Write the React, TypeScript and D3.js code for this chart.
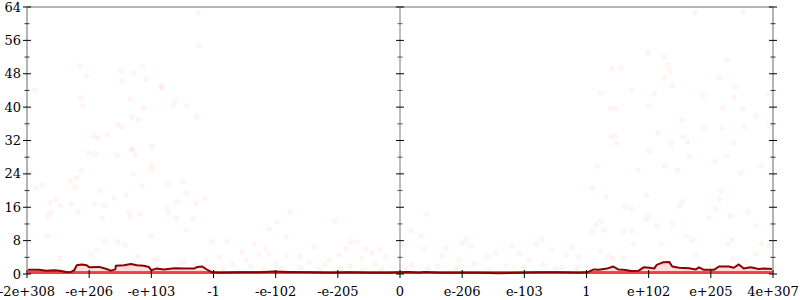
import React from "react";
import * as d3 from "d3";

// x positions are in tick units (-6 .. 6), one unit per labelled tick
const xTickLabels = ["-2e+308", "-e+206", "-e+103", "-1", "-e-102", "-e-205", "0", "e-206", "e-103", "1", "e+102", "e+205", "4e+307"];
const xTickValues = [-6, -5, -4, -3, -2, -1, 0, 1, 2, 3, 4, 5, 6];
const yMajorTicks = [0, 8, 16, 24, 32, 40, 48, 56, 64];
const yMinorTicks = [4, 12, 20, 28, 36, 44, 52, 60];

// scattered error samples, negative half
const pointsNeg: [number, number][] = [
  [-5.15, 49.9], [-5.05, 47.5], [-4.49, 48.7], [-4.47, 46.3], [-4.29, 48.2], [-4.13, 49.6], [-4.09, 46.8],
  [-3.84, 45], [-3.83, 44.6], [-5.87, 44], [-5.13, 42.2], [-5.1, 40.3], [-4.34, 42], [-4.12, 39.8],
  [-3.62, 41.5], [-3.65, 40.3], [-3.43, 40.3], [-3.27, 37.6], [-4.31, 37.6], [-4.21, 36.9], [-4.54, 35.7],
  [-4.47, 35.3], [-4.92, 33.1], [-4.86, 32.6], [-4.71, 33.3], [-3.99, 30.5], [-4.31, 30], [-3.25, 62.6],
  [-3.23, 54.7], [-5.0, 29], [-4.91, 28.8], [-4.55, 28.5], [-4.31, 29.7], [-4.25, 28.5], [-5.95, 24.2],
  [-5.13, 24.7], [-5.2, 23], [-5.31, 22.3], [-5.76, 21.3], [-5.86, 20.6], [-5.23, 20.8], [-4.83, 20.1],
  [-4.29, 24], [-4.15, 21.1], [-4.01, 26.1], [-4.01, 24.9], [-3.73, 21.6], [-3.49, 22.1], [-3.43, 19.4],
  [-4.41, 18.9], [-4.6, 18.2], [-5.53, 18], [-5.63, 17], [-5.47, 16.3], [-5.28, 16.8], [-4.92, 16.8],
  [-4.75, 16.5], [-5.61, 14.9], [-5.65, 13.9], [-5.18, 14.9], [-4.36, 14.9], [-4.34, 13.7], [-4.18, 14.4],
  [-3.75, 15.6], [-3.72, 14.6], [-3.59, 17.3], [-3.6, 13.4], [-3.28, 17], [-3.33, 13.2], [-4.79, 13.4],
  [-3.44, 10.6], [-5.68, 9.1], [-4.01, 9.1], [-4.75, 7.9], [-4.54, 7.7], [-4.42, 7], [-4.87, 5.8],
  [-4.97, 4.6], [-5.47, 3.8], [-4.21, 4.1], [-3.94, 3.4], [-3.55, 2.6], [-3.47, 2.9], [-3.28, 2.2],
  [-3.14, 18], [-1.77, 14.9], [-1.98, 12.5], [-2.11, 10.8], [-1.83, 8.9], [-1.05, 12.7], [-3.02, 7.7],
  [-2.78, 7.7], [-2.35, 7.2], [-2.16, 6.2], [-1.38, 6.5], [-0.87, 6], [-0.79, 7.7], [-0.69, 7.7],
  [-0.55, 6], [-0.32, 5.8], [-2.54, 5.3], [-2.27, 4.6], [-2.11, 4.8], [-1.83, 4.3], [-2.48, 3.4],
  [-1.62, 4.1], [-1.46, 2.9], [-1.14, 3.4], [-0.98, 4.6], [-0.61, 3.8], [-0.45, 5], [-0.23, 4.1],
  [-2.91, 4.1], [-3.12, 3.4], [-2.7, 2.2], [-2.4, 1.8], [-2.0, 2.5], [-1.6, 1.6], [-1.2, 2.2],
  [-0.8, 1.9], [-0.4, 2.4], [-0.1, 1.5], [-5.5, 1.6], [-4.8, 1.5], [-4.4, 1.7], [-3.9, 1.5],
  [-2.85, 1.2], [-2.2, 1.0], [-1.9, 1.4], [-1.3, 1.1], [-0.95, 1.3], [-0.6, 0.9], [-0.3, 1.2],
];

// scattered error samples, positive half
const pointsPos: [number, number][] = [
  [0.43, 14.4], [0.18, 10.3], [0.34, 9.1], [1.06, 8.4], [1.0, 7.4], [1.14, 6.7], [0.74, 6.2], [0.39, 6],
  [1.4, 4.1], [1.54, 5], [1.8, 6.7], [1.91, 5], [2.19, 7.2], [2.28, 8.2], [2.44, 5.8], [2.67, 4.6],
  [2.77, 6.5], [2.88, 4.1], [3.09, 20.6], [3.18, 25.9], [3.09, 10.1], [3.15, 11.8], [0.68, 4.3],
  [0.03, 7], [0.95, 3.4], [2.07, 3.4], [0.2, 2.2], [0.6, 1.8], [1.2, 2.4], [1.7, 1.9], [2.3, 2.2],
  [2.6, 1.6], [0.9, 1.5], [2.0, 1.4], [0.1, 1.1], [0.45, 1.3], [1.45, 1.0], [2.5, 1.2], [2.85, 1.4],
  [4.01, 29.5], [4.65, 28.1], [5.07, 26.9], [5.26, 28.1], [5.82, 25.9], [5.48, 24.2], [3.83, 24.9],
  [4.26, 25.9], [4.47, 24.9], [5.16, 19.9], [3.31, 18.5], [3.96, 18.9], [4.54, 17.3], [4.5, 16.3],
  [3.62, 16.1], [3.72, 15.6], [5.13, 18], [5.08, 15.6], [5.6, 14.9], [5.32, 13.9], [3.99, 13.9],
  [3.96, 12.9], [3.23, 12.7], [4.39, 12], [4.13, 11.5], [4.97, 13.4], [5.73, 11.5], [3.73, 10.3],
  [3.6, 10.1], [3.28, 10.6], [4.62, 9.1], [4.71, 8.2], [5.34, 8.2], [5.28, 7.2], [3.76, 7.2], [4.2, 7.2],
  [5.82, 7.2], [4.76, 4.6], [5.73, 4.8], [5.36, 3.6], [5.57, 3.1], [3.36, 4.3], [3.43, 3.8], [3.6, 3.8],
  [4.2, 3.8], [5.94, 6.7], [3.23, 5.5],
  [4.75, 62.6], [5.53, 62.6], [3.99, 53], [4.25, 52], [5.26, 51.3], [4.31, 50.1], [3.41, 49.2],
  [3.55, 49.4], [4.34, 48.7], [4.25, 47.2], [5.13, 47], [5.39, 44.8], [4.38, 45.1], [3.73, 44.1],
  [4.09, 43.2], [4.87, 42.7], [3.23, 43.4], [5.37, 42.2], [4.01, 40.3], [3.39, 39.6], [3.47, 39.6],
  [5.2, 39.8], [5.52, 39.6], [5.73, 37.9], [4.54, 36.9], [4.89, 34.8], [5.18, 35], [5.53, 35.3],
  [4.15, 33.8], [3.39, 32.9], [3.46, 33.1], [4.55, 32.9], [4.62, 31.7], [4.36, 31.2], [5.37, 31.4],
  [3.49, 31.4], [5.94, 43.2], [5.94, 35.7],
];

// running mean of the error
const meanLine: [number, number][] = [
  [-6.0, 1.0], [-5.81, 1.0], [-5.69, 0.8], [-5.56, 0.9], [-5.45, 0.7], [-5.35, 0.4], [-5.29, 0.5],
  [-5.24, 0.9], [-5.2, 2.1], [-5.12, 2.3], [-5.04, 2.1], [-5.0, 1.6], [-4.84, 1.7], [-4.72, 1.2],
  [-4.65, 0.8], [-4.58, 1.1], [-4.57, 2.0], [-4.44, 2.1], [-4.33, 2.4], [-4.23, 2.1], [-4.12, 2.0],
  [-4.04, 1.7], [-4.0, 0.9], [-3.92, 1.3], [-3.8, 1.1], [-3.63, 1.4], [-3.47, 1.3], [-3.31, 1.3],
  [-3.26, 1.7], [-3.18, 1.8], [-3.12, 1.2], [-3.04, 0.5], [-2.91, 0.3], [-2.59, 0.4], [-2.27, 0.4],
  [-2.03, 0.6], [-1.79, 0.5], [-1.46, 0.4], [-1.14, 0.3], [-0.82, 0.4], [-0.5, 0.3], [-0.18, 0.3],
  [0.0, 0.4], [0.14, 0.5], [0.31, 0.3], [0.39, 0.5], [0.63, 0.3], [0.95, 0.3], [1.27, 0.3], [1.59, 0.2],
  [1.91, 0.3], [2.24, 0.4], [2.56, 0.4], [2.88, 0.3], [3.01, 0.4], [3.12, 1.1], [3.2, 1.0], [3.33, 1.3],
  [3.43, 1.8], [3.51, 1.1], [3.6, 1.0], [3.72, 0.7], [3.84, 0.8], [3.92, 1.6], [4.01, 1.5], [4.09, 1.3],
  [4.13, 2.2], [4.23, 2.8], [4.33, 2.9], [4.38, 1.8], [4.49, 1.5], [4.65, 1.4], [4.76, 1.1], [4.81, 1.6],
  [4.89, 1.0], [5.05, 1.0], [5.13, 1.8], [5.29, 1.8], [5.37, 1.5], [5.45, 2.3], [5.53, 1.3], [5.64, 1.6],
  [5.77, 1.2], [5.85, 1.3], [6.0, 1.2],
];

// exact-result band (error 0 .. ~0.7)
const zeroBand: [number, number] = [0, 0.7];

const W = 800;
const H = 300;
const FONT = "'DejaVu Serif', serif";

export default function App() {
  const x = d3.scaleLinear().domain([-6, 6]).range([27, 773]);
  const y = d3.scaleLinear().domain([0, 64]).range([274, 7]);
  const [x0, x1] = x.range();
  const [yb, yt] = y.range();
  const xm = x(0);

  const line = d3.line<[number, number]>().x((d) => x(d[0])).y((d) => y(d[1]));
  const area = d3
    .area<[number, number]>()
    .x((d) => x(d[0]))
    .y0(y(0))
    .y1((d) => y(d[1]));

  const allPts = [...pointsNeg, ...pointsPos];
  const axisGray = "#b4b4b4";

  const yAxis = (ax: number, key: string, centre = false) => (
    <g key={key}>
      {yMajorTicks.map((t) => (
        <line key={"M" + t} x1={ax - 4} x2={ax + 4} y1={y(t)} y2={y(t)} stroke="#000" strokeWidth={1} />
      ))}
      {yMinorTicks.map((t) => (
        <line key={"m" + t} x1={ax - 2.5} x2={ax + 2.5} y1={y(t)} y2={y(t)} stroke={centre ? "#555" : "#333"} strokeWidth={1} />
      ))}
    </g>
  );

  return (
    <svg width={W} height={H} style={{ position: "absolute", left: 0, top: 0, background: "#fff" }}>
      {/* scattered points */}
      <g>
        {allPts.map((p, i) => (
          <circle key={i} cx={x(p[0])} cy={y(p[1])} r={2.3} fill="#ff0000" fillOpacity={0.035} stroke="#ff0000" strokeOpacity={0.045} />
        ))}
      </g>
      {/* low-error haze under mean */}
      <path d={area(meanLine) || ""} fill="#ff2020" fillOpacity={0.15} />
      {/* zero band */}
      <rect x={x0} width={x1 - x0} y={y(zeroBand[1])} height={y(zeroBand[0]) - y(zeroBand[1])} fill="#e8242a" fillOpacity={0.85} />
      {/* mean line */}
      <path d={line(meanLine) || ""} fill="none" stroke="#8b0000" strokeWidth={2} strokeLinejoin="round" />

      {/* frame */}
      <line x1={x0} x2={x1} y1={yt} y2={yt} stroke={axisGray} strokeWidth={2} />
      <line x1={x0} x2={x0} y1={yt} y2={yb} stroke={axisGray} strokeWidth={2} />
      <line x1={x1} x2={x1} y1={yt} y2={yb} stroke={axisGray} strokeWidth={2} />
      <line x1={xm} x2={xm} y1={yt} y2={yb} stroke="#7a7a7a" strokeWidth={1} />

      {yAxis(x0, "l")}
      {yAxis(x1, "r")}
      {yAxis(xm, "c", true)}

      {/* x ticks */}
      {xTickValues.map((t) => (
        <line key={"xt" + t} x1={x(t)} x2={x(t)} y1={yb - 4} y2={yb + 4} stroke="#000" strokeWidth={1} />
      ))}

      {/* y labels */}
      {yMajorTicks.map((t) => (
        <text key={"yl" + t} x={21} y={y(t)} dy="0.35em" textAnchor="end" fontFamily={FONT} fontSize={13} fill="#000">
          {t}
        </text>
      ))}
      {/* x labels */}
      {xTickValues.map((t, i) => (
        <text key={"xl" + t} x={x(t)} y={296} textAnchor="middle" fontFamily={FONT} fontSize={13} fill="#000">
          {xTickLabels[i]}
        </text>
      ))}
    </svg>
  );
}
